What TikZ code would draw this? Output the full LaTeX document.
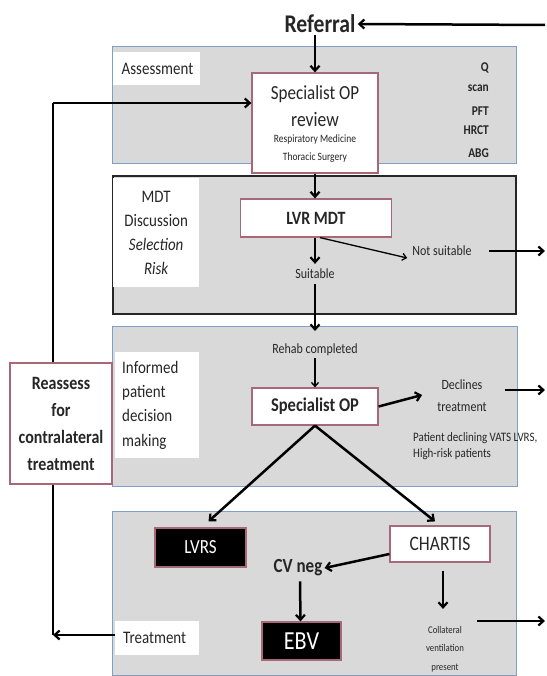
\documentclass[tikz,border=0pt]{standalone}
\usepackage{fontspec}
\setmainfont[FakeStretch=0.85]{Carlito}
\usetikzlibrary{arrows.meta}
\definecolor{panelgray}{HTML}{D9D9D9}
\definecolor{panelblue}{HTML}{7F9FC9}
\definecolor{boxpink}{HTML}{A8687A}
\definecolor{inkgray}{HTML}{262626}
\newcommand{\fsz}[2]{\fontsize{#1}{#2}\selectfont}
\tikzset{
  panel/.style={draw=panelblue, line width=1.3pt, fill=panelgray, anchor=north west, inner sep=0pt},
  darkpanel/.style={panel, draw=black!85, line width=2.4pt},
  whitelabel/.style={fill=white, anchor=north west, inner sep=0pt, text=inkgray},
  pinkbox/.style={draw=boxpink, line width=1.2pt, fill=white, inner sep=0pt, text=inkgray},
  blackbox/.style={draw=boxpink, line width=1.2pt, fill=black, text=white, inner sep=0pt},
  plain/.style={inner sep=2pt, text=inkgray},
  arr/.style={-{Straight Barb[length=5pt,width=9pt,line width=2.2pt]}, line width=2.5pt},
  thinarr/.style={-{Straight Barb[length=4pt,width=7pt,line width=1.3pt]}, line width=1.3pt},
  link/.style={line width=2.5pt},
}
\begin{document}
\begin{tikzpicture}[x=1pt,y=-1pt]
\useasboundingbox (0,0) rectangle (546,676);

% panels
\node[panel, minimum width=404pt, minimum height=117pt] (assess) at (112,46) {};
\node[darkpanel, minimum width=403pt, minimum height=138pt] (mdt) at (112,175) {};
\node[panel, minimum width=405pt, minimum height=160pt] (inf) at (112,326) {};
\node[panel, minimum width=404pt, minimum height=164pt] (treat) at (112,511) {};

% panel labels
\node[whitelabel, minimum width=87pt, minimum height=33pt, text width=70pt, align=left, font=\fsz{17.6}{20}] (asslab) at (113,52) {Assessment};
\node[whitelabel, minimum width=86pt, minimum height=109pt, text width=80pt, align=center, font=\fsz{17.6}{24}] (mdtlab) at (113,178) {MDT\\Discussion\\\textit{Selection}\\\textit{Risk}};
\node[whitelabel, minimum width=84pt, minimum height=106pt, text width=70pt, align=left, font=\fsz{17.6}{24.3}] (inflab) at (115,352) {Informed\\patient\\decision\\making};
\node[whitelabel, minimum width=84pt, minimum height=34pt, text width=68pt, align=left, font=\fsz{17.6}{20}] (treatlab) at (115,621) {Treatment};

% referral
\node[plain, font=\bfseries\fsz{25.5}{25.5}] (ref) at (320,24) {Referral};
\coordinate (refin) at (545,25);

% assessment contents
\node[pinkbox, minimum width=126pt, minimum height=100pt] (rev) at (315,123) {};
\node[plain, font=\fsz{20}{20}] (revt1) at (315,94) {Specialist OP};
\node[plain, font=\fsz{20.6}{20.6}] (revt2) at (315,119) {review};
\node[plain, font=\fsz{11.2}{11.2}] (revt3) at (315,140) {Respiratory Medicine};
\node[plain, font=\fsz{11.2}{11.2}] (revt4) at (315,158) {Thoracic Surgery};
\node[anchor=east, inner sep=0pt, text=inkgray, font=\bfseries\fsz{13.4}{13.4}] (q) at (489,68) {Q};
\node[anchor=east, inner sep=0pt, text=inkgray, font=\bfseries\fsz{13.4}{13.4}] (scan) at (489,88) {scan};
\node[anchor=east, inner sep=0pt, text=inkgray, font=\bfseries\fsz{13.4}{13.4}] (pft) at (489,111) {PFT};
\node[anchor=east, inner sep=0pt, text=inkgray, font=\bfseries\fsz{13.4}{13.4}] (hrct) at (489,130) {HRCT};
\node[anchor=east, inner sep=0pt, text=inkgray, font=\bfseries\fsz{13.4}{13.4}] (abg) at (489,153) {ABG};

% MDT contents
\node[pinkbox, minimum width=151pt, minimum height=38pt, font=\bfseries\fsz{18.8}{18.8}] (lvr) at (316,218) {LVR MDT};
\node[plain, font=\fsz{14.1}{14.1}] (suit) at (315,274) {Suitable};
\node[plain, font=\fsz{14.1}{14.1}] (nots) at (442,251) {Not suitable};
\coordinate (outA) at (545,251);

% informed contents
\node[plain, font=\fsz{14.1}{14.1}] (rehab) at (315,350) {Rehab completed};
\coordinate (inTop) at (315,331);
\node[pinkbox, minimum width=126pt, minimum height=37pt, font=\bfseries\fsz{19.4}{19.4}] (spop) at (315,406.5) {Specialist OP};
\node[plain, align=center, font=\fsz{14.1}{22}] (decl) at (462,396) {Declines\\treatment};
\coordinate (outB) at (545,390);
\node[anchor=west, inner sep=0pt, align=left, text=inkgray, font=\fsz{12.9}{16}] (vats) at (413,446) {Patient declining VATS LVRS,\\High-risk patients};

% reassess
\node[pinkbox, minimum width=102pt, minimum height=121pt, align=center, font=\bfseries\fsz{18.8}{27}] (reas) at (61,423.5) {Reassess\\for\\contralateral\\treatment};
\coordinate (tl) at (53,103);
\coordinate (bl) at (53,635);

% treatment contents
\node[blackbox, minimum width=91pt, minimum height=39pt, font=\fsz{20}{20}] (lvrs) at (200.5,547.5) {LVRS};
\node[pinkbox, minimum width=100pt, minimum height=36pt, font=\fsz{20.6}{20.6}] (chartis) at (440,544) {CHARTIS};
\node[plain, font=\bfseries\fsz{20}{20}] (cvneg) at (298,568) {CV neg};
\node[blackbox, minimum width=79pt, minimum height=38pt, font=\fsz{26}{26}] (ebv) at (301.5,641) {EBV};
\node[inner sep=3pt, align=center, text=inkgray, font=\fsz{10.3}{18.5}] (coll) at (445,649) {Collateral\\ventilation\\present};
\coordinate (outC) at (545,621);

% connectors
\draw[arr] (refin) -- (ref.east);
\draw[arr] (rev.north |- ref.south) -- (rev.north);
\draw[arr] (rev.south) -- (rev.south |- lvr.north);
\draw[arr] (rev.south |- lvr.south) -- ([yshift=3pt]rev.south |- suit.north);
\draw[thinarr] ([xshift=4pt]lvr.south) -- ([xshift=-3pt,yshift=-7pt]nots.west);
\draw[arr] ([xshift=15pt]nots.east) -- (outA);
\draw[arr] ([yshift=-3pt]suit.south) -- (inTop);
\draw[thinarr] (rehab.south) -- (spop.north);
\draw[arr] (spop.east) -- ([xshift=-13pt,yshift=1pt]decl.west);
\draw[arr] ([xshift=16pt,yshift=6pt]decl.east) -- (outB);
\draw[arr] (spop.south) -- ([xshift=8pt,yshift=6pt]lvrs.north);
\draw[arr] (spop.south) -- ([xshift=-5pt,yshift=4pt]chartis.north);
\draw[arr] ([yshift=-10pt]chartis.west) -- (cvneg.east);
\draw[arr] ([xshift=2pt,yshift=-3pt]cvneg.south) -- ([xshift=-1pt]ebv.north);
\draw[arr] ([xshift=3pt,yshift=-8pt]chartis.south) -- ([xshift=3pt,yshift=14pt]chartis.south |- coll.north);
\draw[arr] ([xshift=10pt,yshift=28pt]coll.east) -- (outC);
\draw[arr] (treatlab.west |- bl) -- (bl);
\draw[link] (bl) -- (bl |- reas.south);
\draw[link] (tl |- reas.north) -- (tl);
\draw[arr] (tl) -- (tl -| rev.west);
\end{tikzpicture}
\end{document}
